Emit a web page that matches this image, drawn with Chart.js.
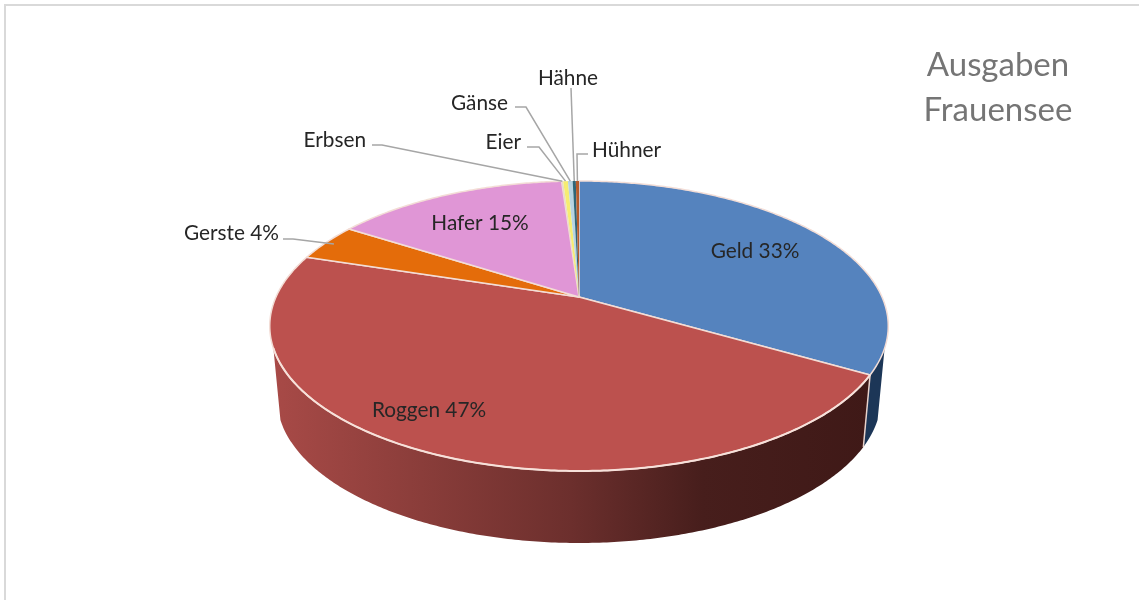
<!DOCTYPE html>
<html>
<head>
<meta charset="utf-8">
<title>Ausgaben Frauensee</title>
<script src="https://cdn.jsdelivr.net/npm/chart.js@4"></script>
<style>
html, body { margin: 0; padding: 0; background: #fff; }
canvas { display: block; }
</style>
</head>
<body>
<canvas id="pie" width="1139" height="600"></canvas>
<script>
var categories = ["Geld", "Roggen", "Gerste", "Hafer", "Erbsen", "Eier", "Gänse", "Hähne", "Hühner"];
var values = [33.4, 46.5, 4.2, 14.8, 0.1, 0.3, 0.3, 0.2, 0.2];
var colors = ["#5583BE", "#BC514E", "#E46C0A", "#E096D6", "#E8DCC8", "#F6EC72", "#B7D3E2", "#2F6577", "#B65A2A"];
var borders = [1.5, 1.5, 1.5, 1.5, 0, 0, 0, 0, 0];
var titleLines = ["Ausgaben", "Frauensee"];

// where each label sits: text anchor x, middle y, elbow of leader (none = inside the pie)
var spots = [
    { x: 755, y: 251, align: "center" },
    { x: 429, y: 410, align: "center" },
    { x: 279, y: 233, align: "right", elbow: [[283, 239], [293, 239]], reach: 0.97 },
    { x: 480, y: 223, align: "center" },
    { x: 366, y: 140, align: "right", elbow: [[372, 145], [382, 145]], reach: 1 },
    { x: 521, y: 142, align: "right", elbow: [[527, 147], [539, 147]], reach: 1 },
    { x: 508, y: 103, align: "right", elbow: [[515, 107], [526, 107]], reach: 1 },
    { x: 568, y: 78, align: "center", elbow: [[571, 88]], reach: 1 },
    { x: 592, y: 150, align: "left", elbow: [[588, 154], [577, 154]], reach: 1 }
];

// tilted disc seen in perspective
var cx = 579, k = 0.2;
// angles where the side wall leaves the outline of the disc
var wallFrom = 110 * Math.PI / 180, wallTo = 250 * Math.PI / 180;

function project(theta, top) {
    var u = Math.sin(theta), v = Math.cos(theta), w = 1 + k * v;
    if (top) {
        return [cx + 303 * u / w, 297 - 139.2 * v / w];
    }
    return [cx + 296 * u / w, 369 - 139.2 * v / w];
}

function arcPoints(a, b, top) {
    var pts = [], n = Math.max(2, Math.ceil(Math.abs(b - a) / 0.01));
    for (var i = 0; i <= n; i++) {
        pts.push(project(a + (b - a) * i / n, top));
    }
    return pts;
}

function tracePath(ctx, pts, open) {
    ctx.beginPath();
    pts.forEach(function (p, i) {
        if (i == 0) ctx.moveTo(p[0], p[1]);
        else ctx.lineTo(p[0], p[1]);
    });
    if (!open) ctx.closePath();
}

var tiltPlugin = {
    id: "tilt",
    beforeDraw: function (chart) {
        var ctx = chart.ctx;
        ctx.save();
        ctx.fillStyle = "#fff";
        ctx.fillRect(0, 0, 1139, 600);
        ctx.fillStyle = "#D9D9D9";
        ctx.fillRect(4, 4, 1135, 2);
        ctx.fillRect(4, 4, 2, 596);
        ctx.restore();
    },
    beforeDatasetsDraw: function (chart) {
        var ctx = chart.ctx;
        var arcs = chart.getDatasetMeta(0).data;
        var q = Math.PI / 2;
        ctx.save();

        // side wall of Geld
        var th = arcs[0].endAngle + q;
        tracePath(ctx, arcPoints(wallFrom, th, true).concat(arcPoints(th, wallFrom, false)));
        ctx.fillStyle = "#1C3657";
        ctx.fill();

        // side wall of Roggen
        var th2 = Math.min(arcs[1].endAngle + q, wallTo);
        tracePath(ctx, arcPoints(th, th2, true).concat(arcPoints(th2, th, false)));
        var g = ctx.createLinearGradient(272, 0, 870, 0);
        g.addColorStop(0, "#A84A47");
        g.addColorStop(0.25, "#8A3D3A");
        g.addColorStop(0.5, "#6C2F2D");
        g.addColorStop(0.72, "#471E1C");
        g.addColorStop(1, "#3F1917");
        ctx.fillStyle = g;
        ctx.fill();

        // edge between the two walls
        var e1 = project(th, true), e2 = project(th, false);
        ctx.strokeStyle = "#E9D3CC";
        ctx.lineWidth = 1.5;
        ctx.beginPath();
        ctx.moveTo(e1[0], e1[1]);
        ctx.lineTo(e2[0], e2[1]);
        ctx.stroke();

        // top faces
        arcs.forEach(function (arc) {
            var a = arc.startAngle + q, b = arc.endAngle + q;
            tracePath(ctx, [[cx, 297]].concat(arcPoints(a, b, true)));
            ctx.fillStyle = arc.options.backgroundColor;
            ctx.fill();
            if (arc.options.borderWidth > 0) {
                ctx.strokeStyle = arc.options.borderColor;
                ctx.lineWidth = arc.options.borderWidth;
                ctx.lineJoin = "round";
                ctx.stroke();
            }
        });

        // bright near rim
        tracePath(ctx, arcPoints(th, wallTo, true), true);
        ctx.strokeStyle = "#F7E1DA";
        ctx.lineWidth = 2;
        ctx.stroke();
        ctx.restore();
        return false;
    },
    afterDraw: function (chart) {
        var ctx = chart.ctx;
        var arcs = chart.getDatasetMeta(0).data;
        var total = values.reduce(function (s, v) { return s + v; }, 0);
        ctx.save();

        // leader lines
        spots.forEach(function (spot, i) {
            if (!spot.elbow) return;
            var mid = (arcs[i].startAngle + arcs[i].endAngle) / 2 + Math.PI / 2;
            var tip = project(mid, true);
            tip = [cx + (tip[0] - cx) * spot.reach, 297 + (tip[1] - 297) * spot.reach];
            tracePath(ctx, spot.elbow.concat([tip]), true);
            ctx.strokeStyle = "#A6A6A6";
            ctx.lineWidth = 1.5;
            ctx.stroke();
        });

        // slice labels
        ctx.font = "20.8px Lato";
        ctx.fillStyle = "#262626";
        ctx.textBaseline = "middle";
        spots.forEach(function (spot, i) {
            var text = categories[i];
            if (values[i] >= 1) text += " " + Math.round(values[i] / total * 100) + "%";
            ctx.textAlign = spot.align;
            ctx.fillText(text, spot.x, spot.y);
        });

        // title
        ctx.font = "33px Lato";
        ctx.fillStyle = "#757575";
        ctx.textAlign = "center";
        ctx.fillText(titleLines[0], 998, 65);
        ctx.fillText(titleLines[1], 998, 110);
        ctx.restore();
    }
};

var chart = new Chart(document.getElementById("pie").getContext("2d"), {
    type: "pie",
    data: {
        labels: categories,
        datasets: [{
            data: values,
            backgroundColor: colors,
            borderColor: "#F3DDD6",
            borderWidth: borders
        }]
    },
    options: {
        responsive: false,
        animation: false,
        plugins: {
            legend: { display: false },
            tooltip: { enabled: false },
            title: { display: false }
        }
    },
    plugins: [tiltPlugin]
});
</script>
</body>
</html>
